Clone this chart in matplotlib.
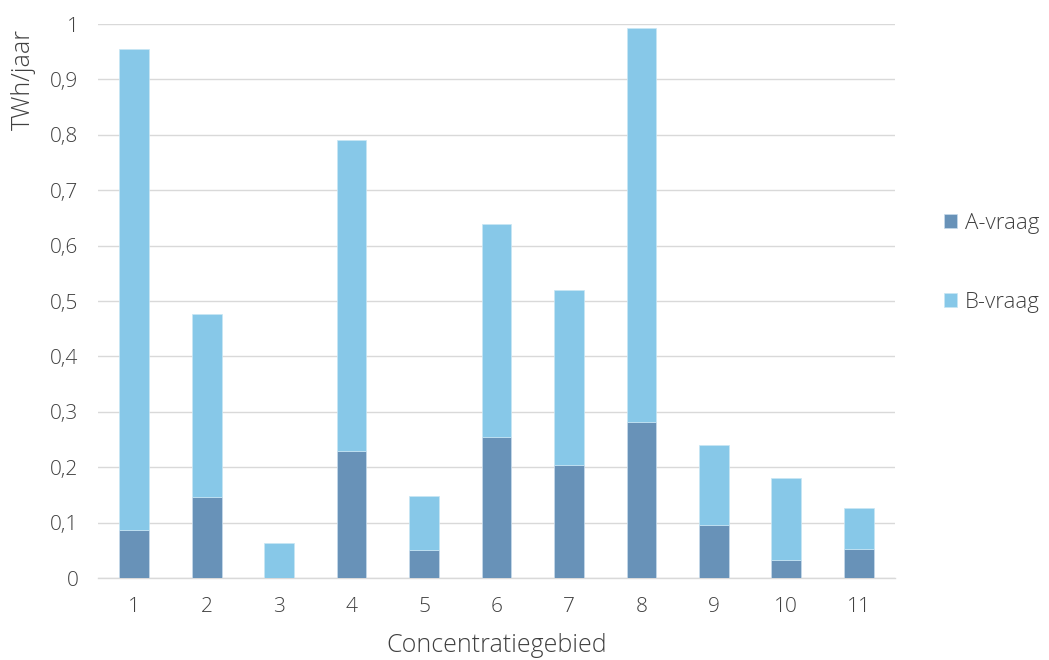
import matplotlib
matplotlib.use("Agg")
import matplotlib.pyplot as plt
import numpy as np

categories = ["1", "2", "3", "4", "5", "6", "7", "8", "9", "10", "11"]
a_vraag = [0.087, 0.146, 0.0, 0.229, 0.050, 0.255, 0.204, 0.282, 0.096, 0.032, 0.052]
totaal = [0.955, 0.477, 0.063, 0.790, 0.148, 0.639, 0.520, 0.993, 0.240, 0.180, 0.126]
b_vraag = [t - a for t, a in zip(totaal, a_vraag)]
yticks = [0, 0.1, 0.2, 0.3, 0.4, 0.5, 0.6, 0.7, 0.8, 0.9, 1]
ytick_labels = ["0", "0,1", "0,2", "0,3", "0,4", "0,5", "0,6", "0,7", "0,8", "0,9", "1"]

plt.rcParams['font.family'] = ['Open Sans', 'DejaVu Sans']
plt.rcParams['font.weight'] = 'light'
txt = '#404040'

fig = plt.figure(figsize=(10.49, 6.6), dpi=100)
ax = fig.add_axes([98/1049, 82/660, (895-98)/1049, (578-24)/660])

x = np.arange(len(categories))
w = 0.41
ax.bar(x, a_vraag, w, color='#6892b8', edgecolor='#c8dcec', linewidth=0.5, label='A-vraag', zorder=3)
ax.bar(x, b_vraag, w, bottom=a_vraag, color='#87c8e8', edgecolor='#c8e6f4', linewidth=0.5, label='B-vraag', zorder=3)

ax.set_xlim(-0.5, len(categories) - 0.5)
ax.set_ylim(0, 1)
ax.set_yticks(yticks)
ax.set_yticklabels(ytick_labels)
ax.set_xticks(x)
ax.set_xticklabels(categories)
ax.grid(axis='y', color='#d9d9d9', linewidth=1, zorder=0)
for s in ['top', 'right', 'left']:
    ax.spines[s].set_visible(False)
ax.spines['bottom'].set_color('#d9d9d9')
ax.spines['bottom'].set_linewidth(1)
ax.tick_params(axis='both', length=0, labelsize=15, colors=txt, pad=14)
ax.tick_params(axis='x', pad=14)

ax.set_ylabel('TWh/jaar', fontsize=18, color=txt, fontweight='light')
ax.set_xlabel('Concentratiegebied', fontsize=18, color=txt, fontweight='light')
ax.yaxis.set_label_coords(-0.078, 0.9)
ax.xaxis.set_label_coords(0.5, -0.1)

handles, labels = ax.get_legend_handles_labels()
fig.legend(handles, labels, loc='center left', bbox_to_anchor=(924/1049, 1 - 263/660),
           frameon=False, fontsize=16, labelcolor=txt, handlelength=0.6, handleheight=0.6,
           handletextpad=0.35, labelspacing=2.6)

fig.savefig('out.png', dpi=100)
